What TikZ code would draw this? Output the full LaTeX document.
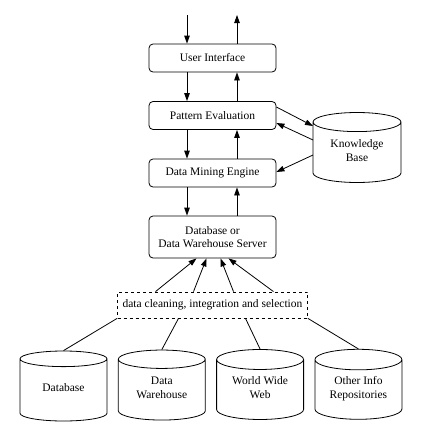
\documentclass[tikz,border=0pt]{standalone}
\usepackage{fontspec}
\setmainfont{Liberation Serif}
\usetikzlibrary{shapes.geometric,arrows.meta}

\begin{document}
\begin{tikzpicture}[x=1pt, y=1pt, node distance={57.5pt}, line width=0.8pt,
    >={Triangle[length=8pt,width=5.5pt]},
    font=\fontsize{11.5}{13.5}\selectfont,
    main/.style = {draw, rounded corners=4pt, minimum width=127pt, minimum height=28pt, align=center},
    clean/.style = {draw, dashed, minimum width=190pt, minimum height=26pt},
    store/.style = {draw, cylinder, shape border rotate=90, aspect=0.32, minimum width=87pt, minimum height=70pt, align=center, text depth=8pt}]
    \useasboundingbox (0,0) rectangle (428,-439);
    \node[main] (ui) at (212.5,-58) {User Interface};
    \node[main] (pe) [below of=ui] {Pattern Evaluation};
    \node[main] (dme) [below of=pe] {Data Mining Engine};
    \node[main, minimum height=42pt] (dws) [below of=dme, node distance=64pt] {Database or\\Data Warehouse Server};
    \node[clean] (dc) [below of=dws, node distance=68pt] {data cleaning, integration and selection};
    \node[store, minimum width=88pt, anchor=shape center] (kb) at (357,-147.5) {Knowledge\\Base};
    \node[store, anchor=shape center] (db) at (63.5,-386) {Database};
    \node[store] (dw) [right of=db, node distance=98.3pt] {Data\\Warehouse};
    \node[store] (www) [right of=dw, node distance=98.3pt] {World Wide\\Web};
    \node[store] (oir) [right of=www, node distance=98.3pt] {Other Info\\Repositories};
    % query in, results out
    \coordinate (in) at (187,-15);
    \coordinate (out) at (237,-15);
    \draw[->] (in) -- (in |- ui.north);
    \draw[->] (out |- ui.north) -- (out);
    \foreach \a/\b in {ui/pe, pe/dme, dme/dws} {
        \draw[->] ([xshift=-25.5pt]\a.south) -- ([xshift=-25.5pt]\b.north);
        \draw[->] ([xshift=24.5pt]\b.north) -- ([xshift=24.5pt]\a.south);
    }
    % knowledge base
    \draw[->] ([yshift=8.5pt]pe.east) -- ([xshift=-44pt,yshift=21.5pt]kb.shape center);
    \draw[->] ([xshift=-44pt,yshift=7.5pt]kb.shape center) -- ([yshift=-7.5pt]pe.east);
    \draw[->] ([xshift=-44pt,yshift=-7.5pt]kb.shape center) -- ([yshift=1pt]dme.east);
    % sources
    \foreach \s/\t in {-57/-16, -19/-6, 21/8, 61/16}
        \draw[->] ([xshift=\s pt]dc.north) -- ([xshift=\t pt]dws.south);
    \draw (dc.south west) -- (db.north);
    \draw ([xshift=-34pt]dc.south) -- (dw.north);
    \draw ([xshift=33pt]dc.south) -- (www.north);
    \draw (dc.south east) -- (oir.north);
\end{tikzpicture}
\end{document}
